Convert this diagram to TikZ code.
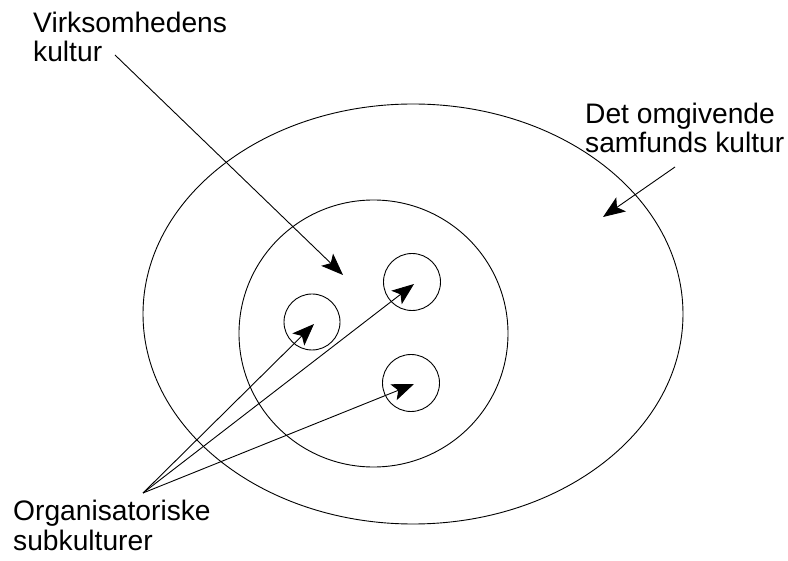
\documentclass[tikz,border=0pt]{standalone}
\usepackage{fontspec}
\setmainfont{Liberation Sans}
\usetikzlibrary{arrows.meta,shapes.geometric}
\begin{document}
\begin{tikzpicture}[x=1pt,y=-1pt,
  lbl/.style={inner sep=0pt, anchor=base west, align=left,
    font=\fontsize{28.2}{29}\selectfont},
  ring/.style={draw, line width=0.9pt, inner sep=0pt, outer sep=0pt},
  pointer/.style={line width=0.9pt, -{Stealth[length=22pt,width=17pt,inset=5pt]}}]
\useasboundingbox (0,0) rectangle (788,561);
\fill[white] (0,0) rectangle (788,561);
% ellipses
\node[ring, ellipse, minimum width=540pt, minimum height=420pt] (outer) at (413,314) {};
\node[ring, ellipse, minimum width=269pt, minimum height=267pt] (inner) at (373.5,333.5) {};
% small circles
\node[ring, circle, minimum size=56pt] (c1) at (312,322) {};
\node[ring, circle, minimum size=57pt] (c2) at (412,282) {};
\node[ring, circle, minimum size=57pt] (c3) at (411,383) {};
% labels (base anchor = baseline of last line)
\node[lbl] (vk) at (33,61.5) {Virksomhedens\\kultur};
\node[lbl] (ds) at (585,153) {Det omgivende\\samfunds kultur};
\node[lbl] (os) at (13,550) {Organisatoriske\\subkulturer};
% arrow ends
\coordinate (vkStart) at (115,55);
\coordinate (vkTip) at (343,275);
\coordinate (dsStart) at (675,167);
\coordinate (dsTip) at (603,217);
\coordinate (osStart) at (143,493);
\coordinate (t1) at (314,324);
\coordinate (t2) at (414,284);
\coordinate (t3) at (414,384);
\draw[pointer] (vkStart) -- (vkTip);
\draw[pointer] (dsStart) -- (dsTip);
\draw[pointer] (osStart) -- (t1);
\draw[pointer] (osStart) -- (t2);
\draw[pointer] (osStart) -- (t3);
\end{tikzpicture}
\end{document}
